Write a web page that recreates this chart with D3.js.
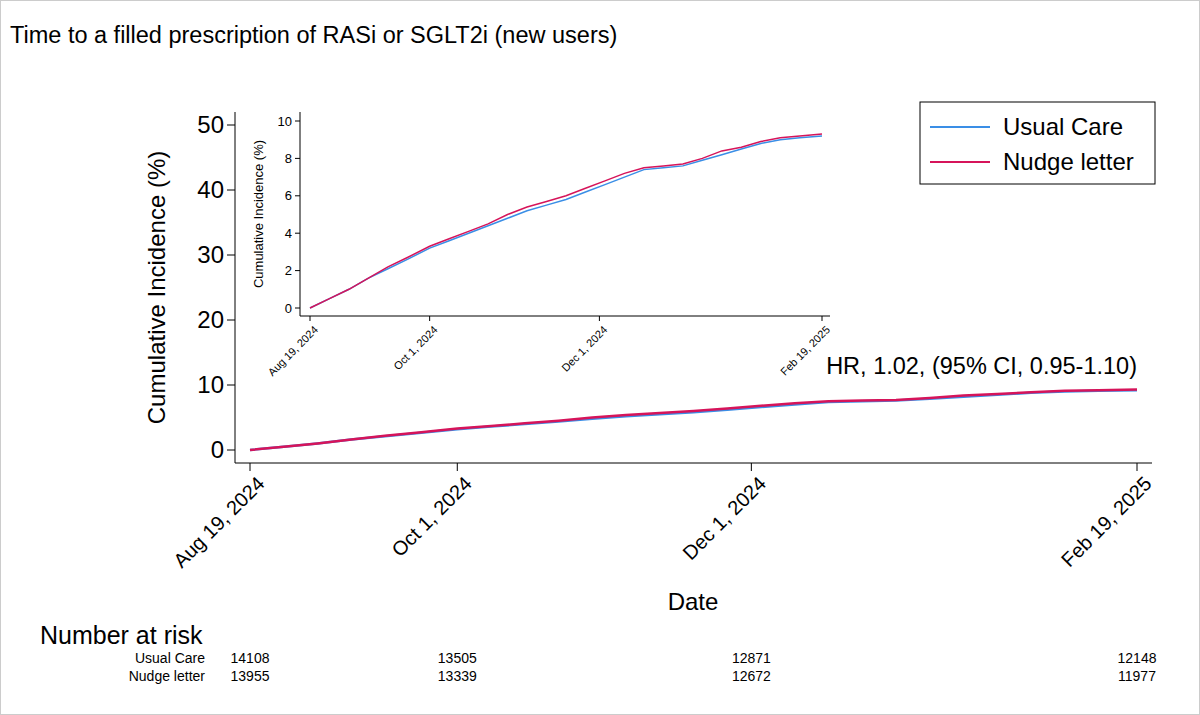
<!DOCTYPE html>
<html lang="en">
<head>
<meta charset="UTF-8">
<script src="https://cdn.jsdelivr.net/npm/d3@7"></script>
<style>
  body { margin: 0; background: #fff; }
  text { font-family: "Liberation Sans", Arial, sans-serif; fill: #000; }
  .narrow { font-family: "Liberation Sans Narrow", "Liberation Sans", Arial, sans-serif; }
</style>
</head>
<body>
<svg id="chart" width="1200" height="715"></svg>
<script>
  // days since Aug 19, 2024 and cumulative incidence (%)
  const days = [0, 7, 14, 21, 28, 35, 43, 50, 57, 64, 71, 78, 85, 92, 99, 106, 113, 120, 127, 134, 141, 148, 155, 162, 169, 176, 184];
  const usualCare = [0, 0.5, 1.0, 1.6, 2.1, 2.6, 3.2, 3.6, 4.0, 4.4, 4.8, 5.2, 5.5, 5.8, 6.2, 6.6, 7.0, 7.4, 7.5, 7.6, 7.9, 8.2, 8.5, 8.8, 9.0, 9.1, 9.2];
  const nudge = [0, 0.5, 1.0, 1.6, 2.2, 2.7, 3.3, 3.7, 4.1, 4.5, 5.0, 5.4, 5.7, 6.0, 6.4, 6.8, 7.2, 7.5, 7.6, 7.7, 8.0, 8.4, 8.6, 8.9, 9.1, 9.2, 9.3];

  const tickDays = [0, 43, 104, 184];
  const tickLabels = ["Aug 19, 2024", "Oct 1, 2024", "Dec 1, 2024", "Feb 19, 2025"];
  const riskUsual = [14108, 13505, 12871, 12148];
  const riskNudge = [13955, 13339, 12672, 11977];

  const seriesNames = ["Usual Care", "Nudge letter"];
  const colors = ["#3a8ee6", "#d6145a"];
  const series = [usualCare, nudge];

  const svg = d3.select("#chart");
  svg.append("rect").attr("x", 0.5).attr("y", 0.5).attr("width", 1199).attr("height", 714)
    .attr("fill", "#fff").attr("stroke", "#ccc");

  svg.append("text").attr("x", 10).attr("y", 43).attr("font-size", 23.5)
    .text("Time to a filled prescription of RASi or SGLT2i (new users)");

  function drawPanel(opt) {
    const x = d3.scaleLinear().domain([0, 184]).range(opt.xr);
    const y = d3.scaleLinear().domain([0, opt.ymax]).range(opt.yr);
    const g = svg.append("g");

    g.append("line").attr("x1", opt.axX).attr("x2", opt.axX).attr("y1", opt.top).attr("y2", opt.axY).attr("stroke", "#000");
    g.append("line").attr("x1", opt.axX).attr("x2", opt.right).attr("y1", opt.axY).attr("y2", opt.axY).attr("stroke", "#000");

    y.ticks(opt.ytickN).forEach(v => {
      g.append("line").attr("x1", opt.axX - opt.tick).attr("x2", opt.axX).attr("y1", y(v)).attr("y2", y(v)).attr("stroke", "#000");
      g.append("text").attr("x", opt.axX - opt.tick - 3).attr("y", y(v)).attr("dy", "0.35em")
        .attr("text-anchor", "end").attr("font-size", opt.fs).text(v);
    });
    tickDays.forEach((d, i) => {
      g.append("line").attr("x1", x(d)).attr("x2", x(d)).attr("y1", opt.axY).attr("y2", opt.axY + opt.tick).attr("stroke", "#000");
      g.append("text").attr("transform", `translate(${x(d) + opt.xfs * 0.3},${opt.axY + opt.tick + 4}) rotate(-45)`)
        .attr("text-anchor", "end").attr("dy", "0.7em").attr("font-size", opt.xfs).text(tickLabels[i]);
    });
    g.append("text").attr("transform", `translate(${opt.ylabX},${(opt.top + opt.axY) / 2}) rotate(-90)`)
      .attr("text-anchor", "middle").attr("font-size", opt.ylfs).text("Cumulative Incidence (%)");

    const line = d3.line().x((d, i) => x(days[i])).y(d => y(d));
    series.forEach((s, k) => {
      g.append("path").attr("d", line(s)).attr("fill", "none")
        .attr("stroke", colors[k]).attr("stroke-width", opt.sw);
    });
    return x;
  }

  const xMain = drawPanel({ xr: [250, 1137], yr: [450, 125], ymax: 50, ytickN: 5, axX: 235, axY: 463, top: 112,
    right: 1152, tick: 8, fs: 24, xfs: 20, ylfs: 24, ylabX: 165, sw: 2.5 });
  drawPanel({ xr: [310, 822], yr: [308, 121], ymax: 10, ytickN: 5, axX: 300, axY: 316, top: 112,
    right: 830, tick: 5, fs: 13, xfs: 11, ylfs: 13, ylabX: 263, sw: 1.5 });

  svg.append("text").attr("x", 1137).attr("y", 374).attr("text-anchor", "end").attr("font-size", 23.5)
    .text("HR, 1.02, (95% CI, 0.95-1.10)");

  // legend
  const lg = svg.append("g");
  lg.append("rect").attr("x", 920).attr("y", 102).attr("width", 235).attr("height", 82)
    .attr("fill", "#fff").attr("stroke", "#000");
  seriesNames.forEach((n, k) => {
    const ly = 127 + k * 35;
    lg.append("line").attr("x1", 930).attr("x2", 990).attr("y1", ly).attr("y2", ly).attr("stroke", colors[k]).attr("stroke-width", 2);
    lg.append("text").attr("x", 1003).attr("y", ly).attr("dy", "0.35em").attr("font-size", 24).text(n);
  });

  svg.append("text").attr("x", 693).attr("y", 610).attr("text-anchor", "middle").attr("font-size", 24).text("Date");

  svg.append("text").attr("class", "narrow").attr("x", 40).attr("y", 644).attr("font-size", 25).text("Number at risk");
  [riskUsual, riskNudge].forEach((arr, k) => {
    const ry = 663 + k * 18;
    svg.append("text").attr("class", "narrow").attr("x", 205).attr("y", ry).attr("text-anchor", "end")
      .attr("font-size", 14).text(seriesNames[k]);
    arr.forEach((v, i) => {
      svg.append("text").attr("class", "narrow").attr("x", xMain(tickDays[i])).attr("y", ry)
        .attr("text-anchor", "middle").attr("font-size", 14).text(v);
    });
  });
</script>
</body>
</html>
